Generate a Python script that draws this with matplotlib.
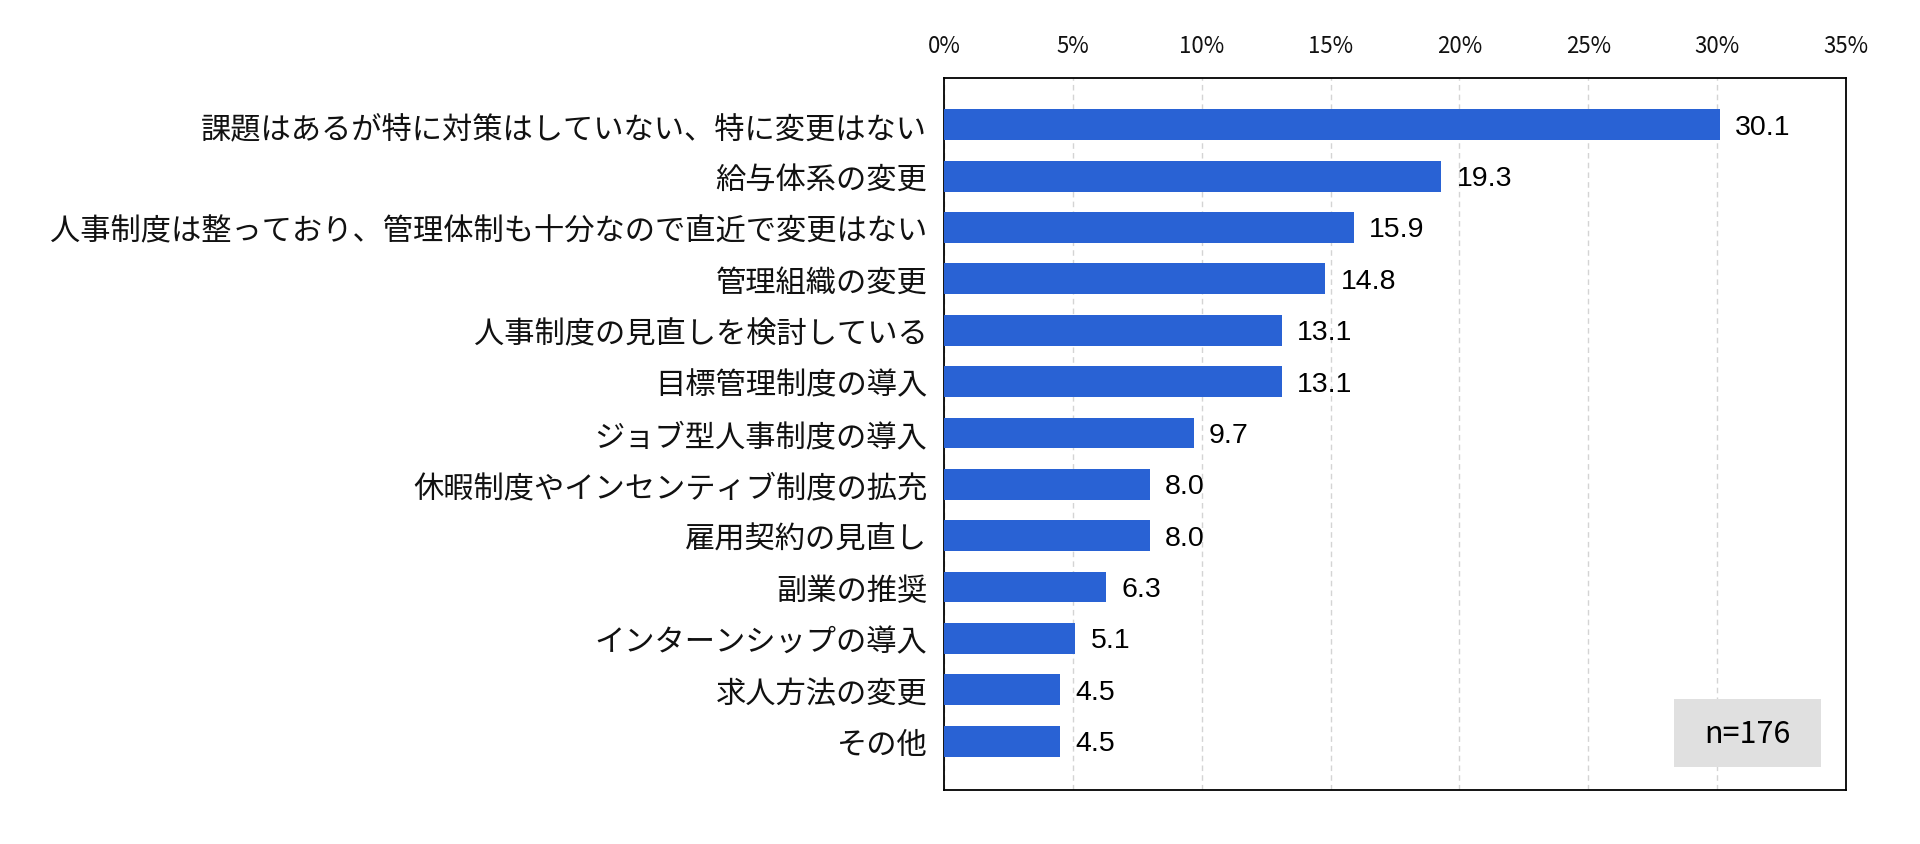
import matplotlib
matplotlib.use("Agg")
import matplotlib.pyplot as plt
from matplotlib.patches import Rectangle

plt.rcParams['font.family'] = ['Noto Sans CJK JP', 'DejaVu Sans']

# data (percent of respondents, n=176)
categories = [
    "課題はあるが特に対策はしていない、特に変更はない",
    "給与体系の変更",
    "人事制度は整っており、管理体制も十分なので直近で変更はない",
    "管理組織の変更",
    "人事制度の見直しを検討している",
    "目標管理制度の導入",
    "ジョブ型人事制度の導入",
    "休暇制度やインセンティブ制度の拡充",
    "雇用契約の見直し",
    "副業の推奨",
    "インターンシップの導入",
    "求人方法の変更",
    "その他",
]
values = [30.1, 19.3, 15.9, 14.8, 13.1, 13.1, 9.7, 8.0, 8.0, 6.3, 5.1, 4.5, 4.5]
x_ticks = [0, 5, 10, 15, 20, 25, 30, 35]
x_tick_labels = [f"{t}%" for t in x_ticks]
sample_note = "n=176"

bar_color = "#2962D4"

fig = plt.figure(figsize=(19.2, 8.45), dpi=100)
ax = fig.add_axes([944 / 1920, 1 - 791 / 845, 902 / 1920, 712 / 845])

pos = list(range(len(categories)))
ax.barh(pos, values, height=0.6, color=bar_color, zorder=3)

# value labels to the right of each bar
for p, v in zip(pos, values):
    ax.annotate(f"{v:.1f}", xy=(v, p), xytext=(15, -2), textcoords="offset pixels",
                ha="left", va="center", fontsize=20.5, color="black",
                family=["Liberation Sans", "DejaVu Sans"])

ax.set_xlim(0, 35)
ax.set_ylim(12.95, -0.91)

ax.set_yticks(pos)
ax.set_yticklabels(categories, fontsize=21.8, color="#111111")
ax.tick_params(axis="y", length=0, pad=12)

ax.xaxis.tick_top()
ax.set_xticks(x_ticks)
ax.set_xticklabels(x_tick_labels, fontsize=16, color="#111111")
ax.tick_params(axis="x", length=0, pad=15)

ax.grid(axis="x", color="#d4d4d4", linestyle=(0, (4, 3)), linewidth=1, zorder=0)
ax.set_axisbelow(True)

for s in ax.spines.values():
    s.set_color("black")
    s.set_linewidth(1.3)

# sample size box in the lower right corner
ax.add_patch(Rectangle((0.809, 0.032), 0.163, 0.096, transform=ax.transAxes,
                       facecolor="#e0e0e0", edgecolor="none", zorder=4))
ax.text(0.8905, 0.080, sample_note, transform=ax.transAxes, ha="center", va="center",
        fontsize=22, color="black", zorder=5)

fig.savefig("out.png", dpi=100)
